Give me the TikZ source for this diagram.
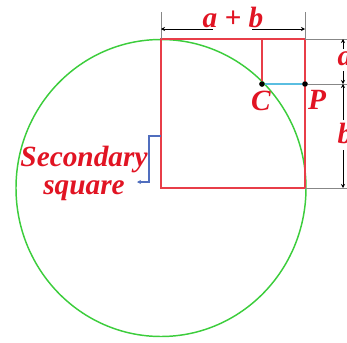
\documentclass[tikz,border=0pt]{standalone}
\usepackage{fontspec}
\setmainfont{Liberation Serif}
\usetikzlibrary{positioning,arrows.meta}
\definecolor{sqred}{RGB}{232,62,72}
\definecolor{arcgreen}{RGB}{60,205,60}
\definecolor{segcyan}{RGB}{90,190,225}
\definecolor{lblred}{RGB}{225,20,35}
\definecolor{brkblue}{RGB}{80,110,190}
\definecolor{extgray}{RGB}{135,135,135}

\begin{document}
\begin{tikzpicture}[x=0.75pt, y=-0.75pt,
      sq/.style={draw=sqred, line width=1.5pt},
      lbl/.style={text=lblred, font=\fontsize{22}{21}\selectfont\bfseries\itshape, inner sep=1pt},
      ext/.style={draw=extgray, line width=0.6pt},
      dim/.style={-{Stealth[length=3pt, width=3pt]}, line width=0.7pt},
      dot/.style={circle, fill=black, inner sep=0pt, minimum size=4pt}]
  \useasboundingbox (0,0) rectangle (347,343);
  % corners of the square
  \coordinate (tl) at (161,39);
  \coordinate (tr) at (305,39);
  \coordinate (bl) at (161,188);
  \coordinate (br) at (305,188);
  \coordinate (tm) at (262,39);
  \node[dot] (C) at (262,84) {};
  \node[dot] (P) at (305,84) {};
  % circle round the lower left corner
  \draw[arcgreen, line width=1.1pt] (bl) ellipse [x radius=145, y radius=148.5];
  % square
  \draw[sq] (tl) -- (tr) -- (br) -- (bl) -- cycle;
  \draw[sq] (tm) -- (C);
  \draw[segcyan, line width=1.5pt] (C) -- (P);
  \node[dot] at (C) {};
  \node[dot] at (P) {};
  % extension lines
  \coordinate (etl) at (161,12);
  \coordinate (etr) at (305,12);
  \draw[ext] (etl) -- (tl);
  \draw[ext] (etr) -- (tr);
  \coordinate (ea) at (347,39);
  \coordinate (eb) at (347,84);
  \coordinate (ec) at (347,188);
  \draw[ext] (tr) -- (ea);
  \draw[ext] (P) -- (eb);
  \draw[ext] (br) -- (ec);
  % dimension a+b
  \coordinate (d1) at (161,29);
  \coordinate (d2) at (213,29);
  \coordinate (d3) at (252,29);
  \coordinate (d4) at (305,29);
  \draw[dim] (d2) -- (d1);
  \draw[dim] (d3) -- (d4);
  \node[lbl] (ab) at (233,17) {a + b};
  % dimensions a and b
  \coordinate (r1) at (343,39);
  \coordinate (r2) at (343,49);
  \coordinate (r3) at (343,71);
  \coordinate (r4) at (343,84);
  \coordinate (r5) at (343,120);
  \coordinate (r6) at (343,150);
  \coordinate (r7) at (343,188);
  \draw[dim] (r2) -- (r1);
  \draw[dim] (r3) -- (r4);
  \draw[dim] (r5) -- (r4);
  \draw[dim] (r6) -- (r7);
  \node[lbl, anchor=west] (la) at (336,59) {a};
  \node[lbl, anchor=west] (lb) at (336,133) {b};
  % points
  \node[lbl] (lc) at (261,101) {C};
  \node[lbl] (lp) at (317,100) {P};
  % secondary square
  \node[lbl, align=center] (sec) at (84,173) {Secondary\\square};
  \coordinate (brk) at (161,136);
  \coordinate (brkend) at (137,182);
  \draw[brkblue, line width=1pt, -{Stealth[length=3pt, width=3pt]}] (brk) -- ++(-12,0) |- (brkend);
\end{tikzpicture}
\end{document}
